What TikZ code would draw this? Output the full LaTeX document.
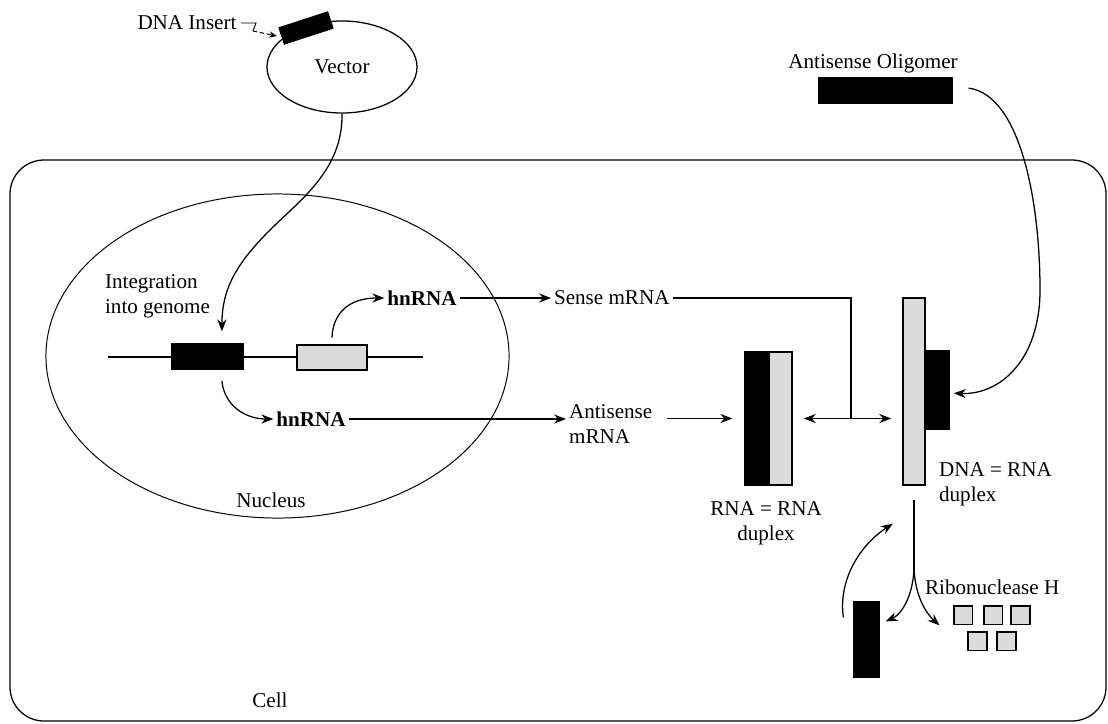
\documentclass[tikz,border=0pt]{standalone}
\usepackage{fontspec}
\setmainfont{Liberation Serif}
\usetikzlibrary{arrows.meta,shapes.geometric}

\begin{document}
\begin{tikzpicture}[x=0.025cm,y=-0.025cm]

\def\lw{0.9pt}
\def\sqs{0.47cm}

\tikzstyle{lbl} = [font=\fontsize{15}{17.5}\selectfont,inner sep=2pt];
\tikzstyle{hlbl} = [font=\fontsize{15}{17.5}\selectfont\bfseries,inner sep=2pt];
\tikzstyle{bnode} = [draw,line width=\lw,fill=black,inner sep=0pt];
\tikzstyle{gnode} = [draw,line width=\lw,fill=gray!28,inner sep=0pt];
\tikzstyle{snode} = [draw,line width=1.3pt,fill=gray!28,inner sep=0pt,minimum width=\sqs,minimum height=\sqs];
\tikzstyle{arr} = [line width=\lw,-{Stealth[length=8.5pt,width=6.5pt]}];
\tikzstyle{darr} = [line width=\lw,{Stealth[length=8.5pt,width=6.5pt]}-{Stealth[length=8.5pt,width=6.5pt]}];

\useasboundingbox (0,0) rectangle (1108,723);

% cell and nucleus
\draw [line width=\lw,rounded corners=0.85cm] (10,160) rectangle (1106,721);
\node [lbl] (celllabel) at (270,700) {Cell};

\node [ellipse,draw,line width=0.7pt,minimum width=11.575cm,minimum height=8.1cm] (nucleus) at (277.5,356) {};
\node [lbl] (nucleuslabel) at (271,500) {Nucleus};

% vector with insert
\node [ellipse,draw,line width=\lw,minimum width=3.75cm,minimum height=2.3cm,lbl] (vector) at (342,67) {Vector};
\node [bnode,rotate=18,minimum width=1.275cm,minimum height=0.425cm] (insert) at (306,28) {};
\node [lbl] (insertlabel) at (187,23) {DNA Insert};
\coordinate (hook) at (253,31);
\draw [line width=0.7pt] ([xshift=1pt]insertlabel.east) -- ++(15,0) -- (hook);
\draw [line width=0.7pt,densely dashed,-{Stealth[length=5.5pt,width=4.5pt]}] (hook) -- ([xshift=-3pt]insert.west);

% genome
\coordinate (gstart) at (108,357);
\coordinate (gend) at (423,357);
\draw [line width=\lw] (gstart) -- (gend);
\node [bnode,minimum width=1.775cm,minimum height=0.625cm] (blackgene) at (207.5,356.5) {};
\node [gnode,minimum width=1.75cm,minimum height=0.625cm] (graygene) at (332,357.5) {};

\node [lbl,align=left,anchor=west] (integlabel) at (102,296.5) {Integration\\into genome};
\draw [arr] (vector.south) .. controls (343,170) and (300,200) .. (270,230) .. controls (235,265) and (222,290) .. ([xshift=0.36cm,yshift=0.3cm]blackgene.north);

% transcripts
\node [hlbl] (hnup) at (422,298) {hnRNA};
\node [hlbl] (hnlow) at (311,419) {hnRNA};
\draw [arr] ([yshift=0.17cm]graygene.north) .. controls (333,312) and (350,298) .. (hnup.west);
\draw [arr] ([xshift=0.36cm,yshift=-0.28cm]blackgene.south) .. controls (224,405) and (245,419) .. (hnlow.west);

\node [lbl,anchor=west] (sense) at (551,298) {Sense mRNA};
\node [lbl,align=left,anchor=west] (antisense) at (566,424) {Antisense\\mRNA};
\draw [arr] (hnup.east) -- (sense.west);
\draw [arr] (hnlow.east) -- (hnlow.east -| antisense.west);

% RNA = RNA duplex
\node [bnode,minimum width=0.6cm,minimum height=3.325cm] (rnablack) at (757,418.5) {};
\node [gnode,minimum width=0.575cm,minimum height=3.325cm] (rnagray) at (780.5,418.5) {};
\node [lbl,align=center] (rnalabel) at (766,523) {RNA = RNA\\duplex};
\draw [arr] ([xshift=0.3cm]antisense.east |- rnablack.west) -- ([xshift=-0.3cm]rnablack.west);

% DNA = RNA duplex
\node [gnode,minimum width=0.55cm,minimum height=4.675cm] (dnagray) at (914,391.5) {};
\node [bnode,minimum width=0.6cm,minimum height=1.95cm] (oligobound) at (937,390) {};
\node [lbl,align=left,anchor=west] (dnalabel) at (936,484.5) {DNA = RNA\\duplex};

\coordinate (junc) at (851,418.5);
\draw [darr] ([xshift=0.28cm]rnagray.east) -- ([xshift=-0.28cm]rnagray.east -| dnagray.west);
\draw [line width=\lw] (sense.east) -- (sense.east -| junc) -- (junc);

% antisense oligomer
\node [bnode,minimum width=3.325cm,minimum height=0.625cm] (oligo) at (885.5,90.5) {};
\node [lbl] (oligolabel) at (873,63) {Antisense Oligomer};
\draw [arr] ([xshift=0.4cm,yshift=0.06cm]oligo.east) .. controls (1020,95) and (1040,200) .. (1040,290) .. controls (1040,360) and (1000,395) .. ([xshift=3pt,yshift=-0.08cm]oligobound.east);

% ribonuclease H
\node [bnode,minimum width=0.625cm,minimum height=1.875cm] (cut) at (866.5,639.5) {};
\node [lbl,anchor=west] (rnaselabel) at (922,587) {Ribonuclease H};
\node [snode] (sq1) at (963,615) {};
\node [snode] (sq2) at (993,615) {};
\node [snode] (sq3) at (1020.5,615) {};
\node [snode] (sq4) at (977.5,641) {};
\node [snode] (sq5) at (1006.5,641) {};

\coordinate (split) at (914,570);
\draw [line width=\lw] ([yshift=-0.35cm]dnagray.south) -- (split);
\draw [arr] (split) .. controls (912,600) and (900,615) .. ([xshift=0.15cm,yshift=-0.5cm]cut.north east);
\draw [arr] (split) .. controls (916,600) and (928,615) .. ([xshift=-0.33cm]sq1.south west);
\draw [arr] ([xshift=-0.25cm,yshift=-0.4cm]cut.north west) .. controls (838,580) and (860,545) .. ([xshift=-0.53cm,yshift=-0.95cm]dnagray.south);

\end{tikzpicture}
\end{document}
